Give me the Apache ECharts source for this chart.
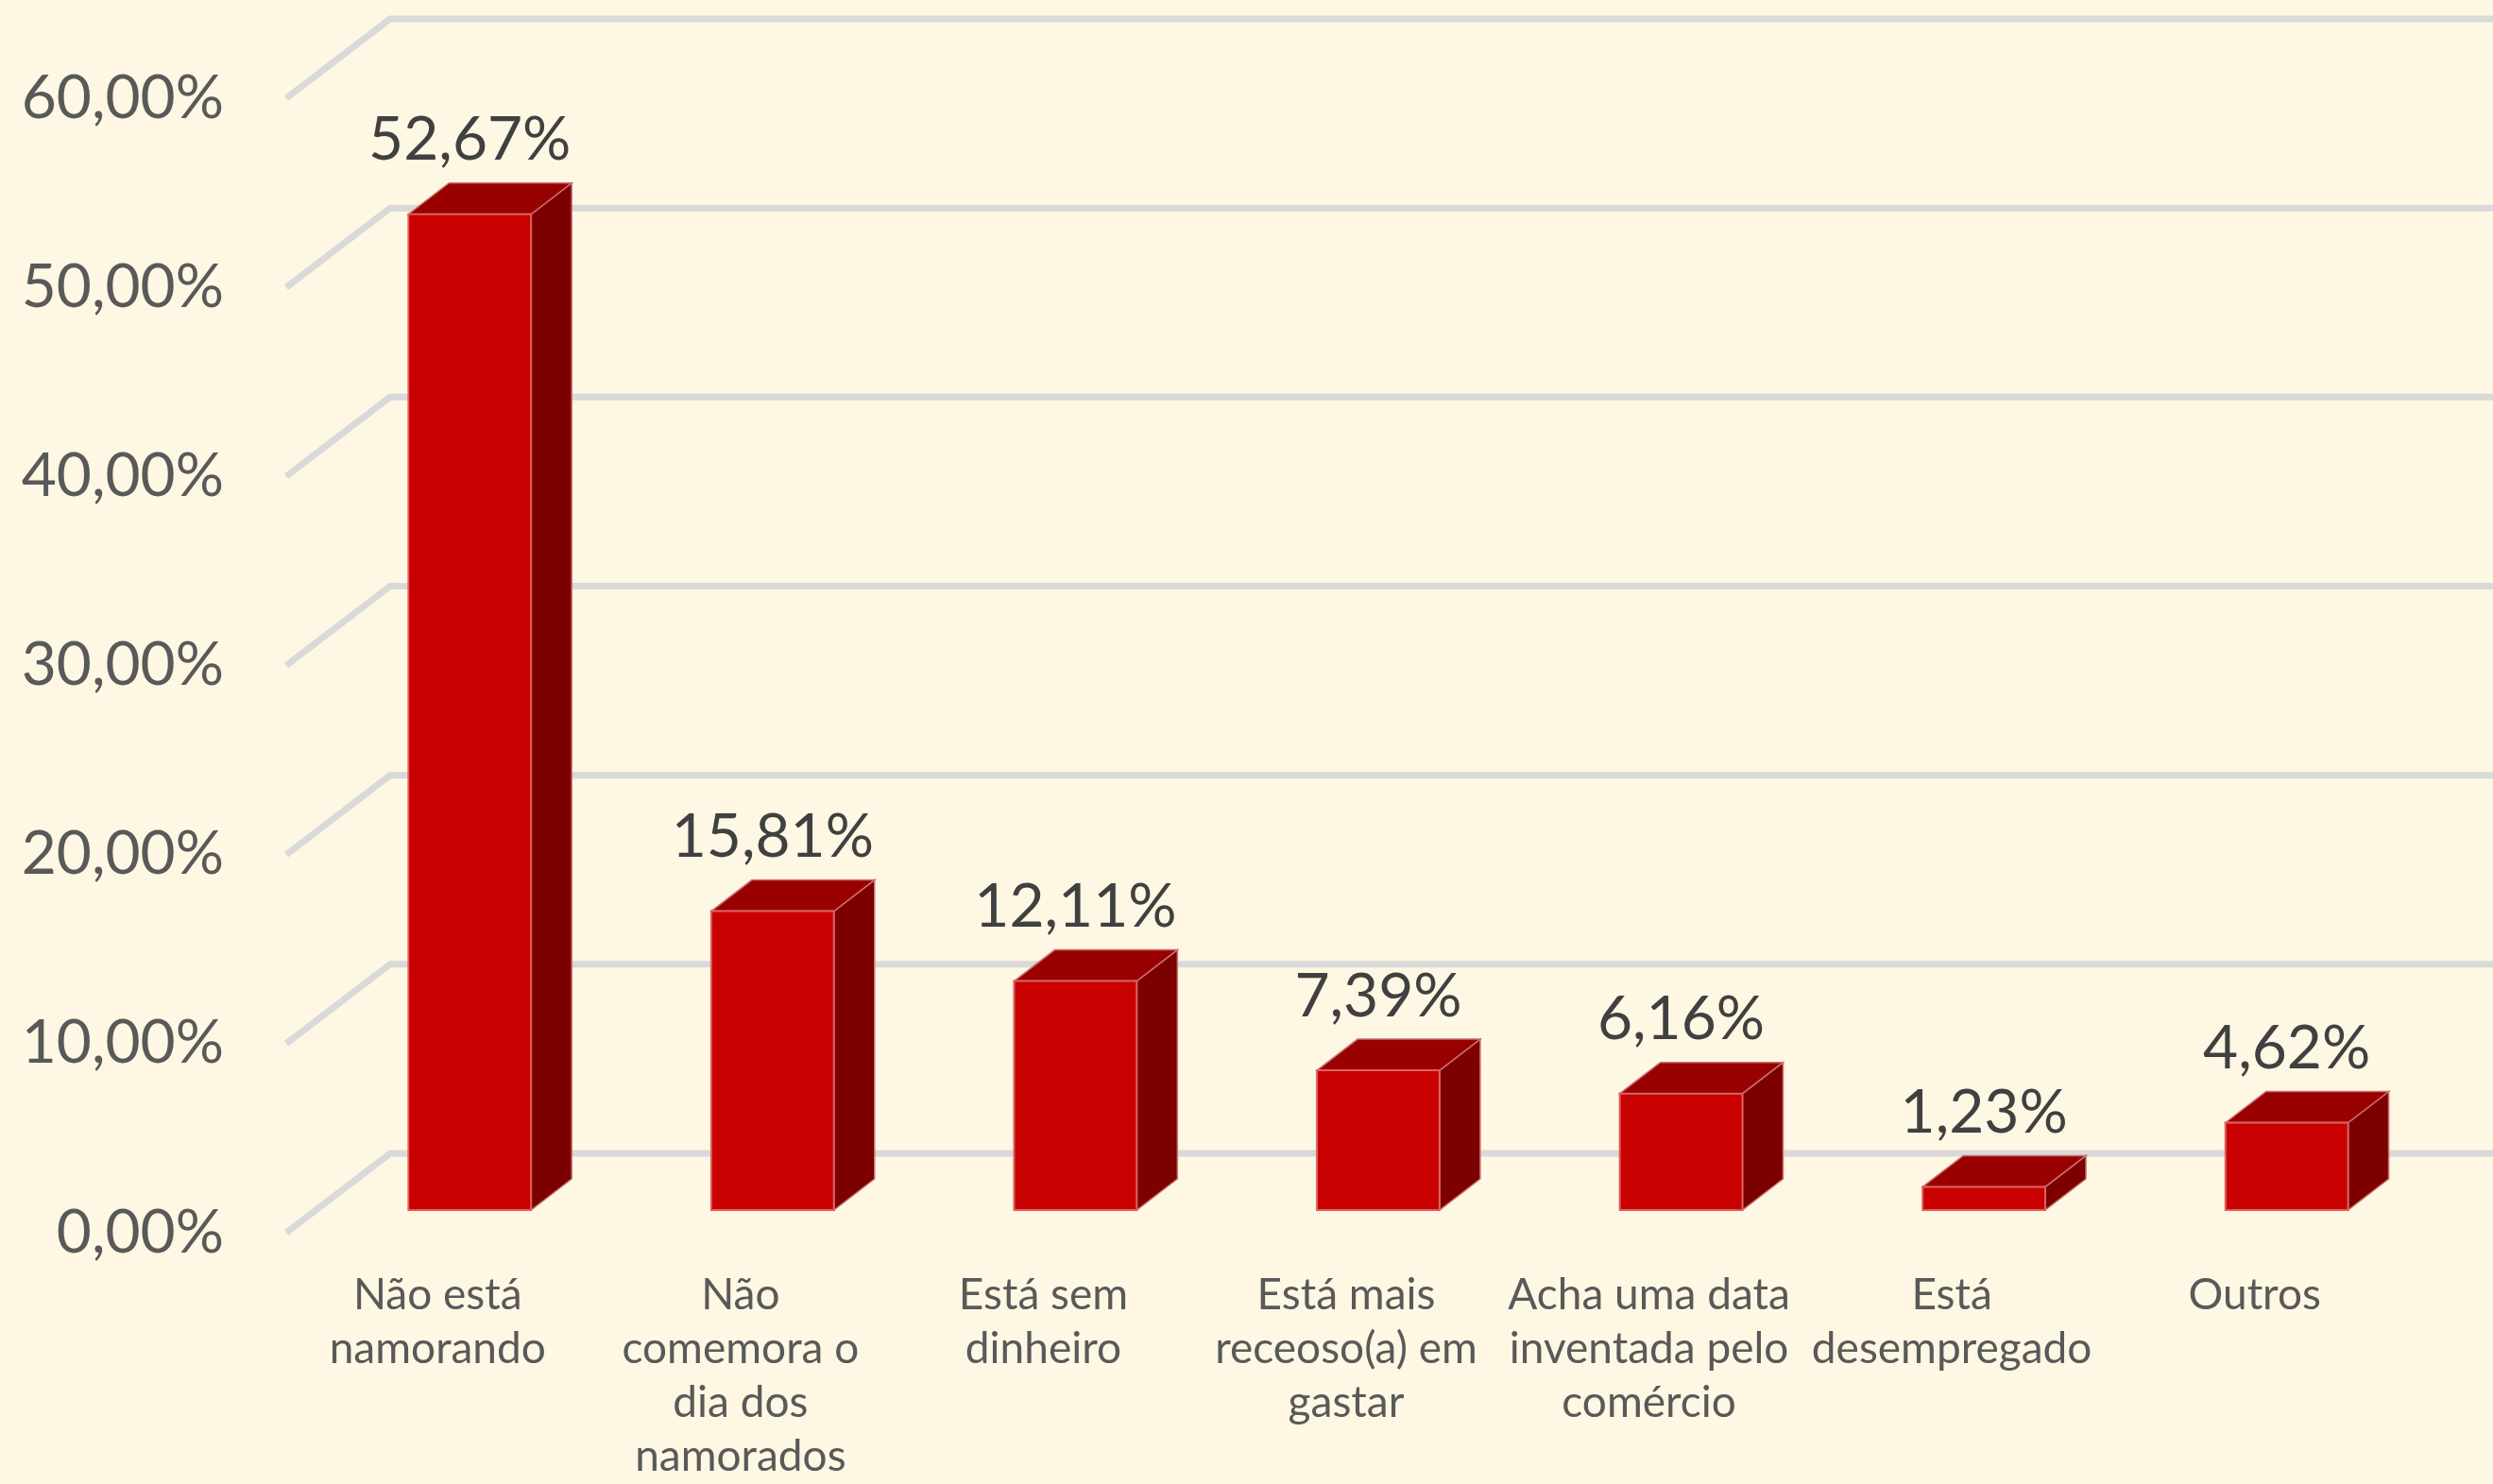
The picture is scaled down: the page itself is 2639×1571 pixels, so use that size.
<!DOCTYPE html>
<html>
<head>
<meta charset="utf-8">
<script src="https://cdn.jsdelivr.net/npm/echarts@6/dist/echarts.min.js"></script>
<style>
  html, body { margin: 0; padding: 0; background: #fef7e3; }
  #chart { width: 2639px; height: 1571px; }
</style>
</head>
<body>
<div id="chart"></div>
<script>
// dados
var categorias = [
  "Não está\nnamorando",
  "Não\ncomemora o\ndia dos\nnamorados",
  "Está sem\ndinheiro",
  "Está mais\nreceoso(a) em\ngastar",
  "Acha uma data\ninventada pelo\ncomércio",
  "Está\ndesempregado",
  "Outros"
];
var valores = [52.67, 15.81, 12.11, 7.39, 6.16, 1.23, 4.62];
var yTicks = [0, 10, 20, 30, 40, 50, 60];

var fonte = "Lato, 'Open Sans', sans-serif";

function pct(v) {
  return v.toFixed(2).replace(".", ",") + "%";
}

// linhas de grade 3D (parede de fundo + diagonal)
function renderGrade(params, api) {
  var p = api.coord([0, api.value(1)]);
  var x0 = params.coordSys.x;
  var y = p[1];
  return {
    type: "polyline",
    shape: { points: [[x0, y], [x0 + 110, y - 84], [api.getWidth() + 10, y - 84]] },
    style: { stroke: "#d9d9d9", lineWidth: 7, fill: null },
    z2: 0
  };
}

// barras 3D
function renderBarra(params, api) {
  var i = api.value(0);
  var v = api.value(1);
  var base = api.coord([i, 0]);
  var topo = api.coord([i, v]);
  var banda = api.size([1, 0])[0];
  var bw = banda * 0.405;
  var ox = banda * 0.106, oy = -24;
  var dx = 43, dy = -33;
  var x0 = base[0] + ox - bw / 2;
  var yb = base[1] + oy;
  var yt = topo[1] + oy;
  return {
    type: "group",
    children: [
      {
        type: "polygon",
        shape: { points: [[x0 + bw, yt], [x0 + bw + dx, yt + dy], [x0 + bw + dx, yb + dy], [x0 + bw, yb]] },
        style: { fill: "#7c0000", stroke: "#c87070", lineWidth: 1.5 }
      },
      {
        type: "polygon",
        shape: { points: [[x0, yt], [x0 + dx, yt + dy], [x0 + bw + dx, yt + dy], [x0 + bw, yt]] },
        style: { fill: "#990000", stroke: "#c87070", lineWidth: 1.5 }
      },
      {
        type: "rect",
        shape: { x: x0, y: yt, width: bw, height: yb - yt },
        style: { fill: "#c80000", stroke: "#e06060", lineWidth: 2 }
      },
      {
        type: "text",
        style: {
          x: x0 + bw / 2,
          y: yt + dy - 45,
          text: pct(v),
          fill: "#404040",
          font: "64px " + fonte,
          align: "center",
          verticalAlign: "middle"
        }
      }
    ]
  };
}

var chart = echarts.init(document.getElementById("chart"));
chart.setOption({
  backgroundColor: "#fef7e3",
  animation: false,
  grid: { left: 303, right: 92, top: 104, bottom: 255 },
  xAxis: {
    type: "category",
    data: categorias,
    axisLine: { show: false },
    axisTick: { show: false },
    splitLine: { show: false },
    axisLabel: {
      interval: 0,
      margin: 38,
      color: "#595959",
      fontSize: 46,
      lineHeight: 57,
      fontFamily: fonte
    }
  },
  yAxis: {
    type: "value",
    min: 0,
    max: 60,
    interval: 10,
    axisLine: { show: false },
    axisTick: { show: false },
    splitLine: { show: false },
    axisLabel: {
      margin: 66,
      color: "#595959",
      fontSize: 64,
      fontFamily: fonte,
      formatter: function (v) { return pct(v); }
    }
  },
  series: [
    {
      type: "custom",
      renderItem: renderGrade,
      data: yTicks.map(function (v) { return [0, v]; }),
      silent: true,
      z: 1
    },
    {
      type: "custom",
      renderItem: renderBarra,
      data: valores.map(function (v, i) { return [i, v]; }),
      z: 2
    }
  ]
});
</script>
</body>
</html>
